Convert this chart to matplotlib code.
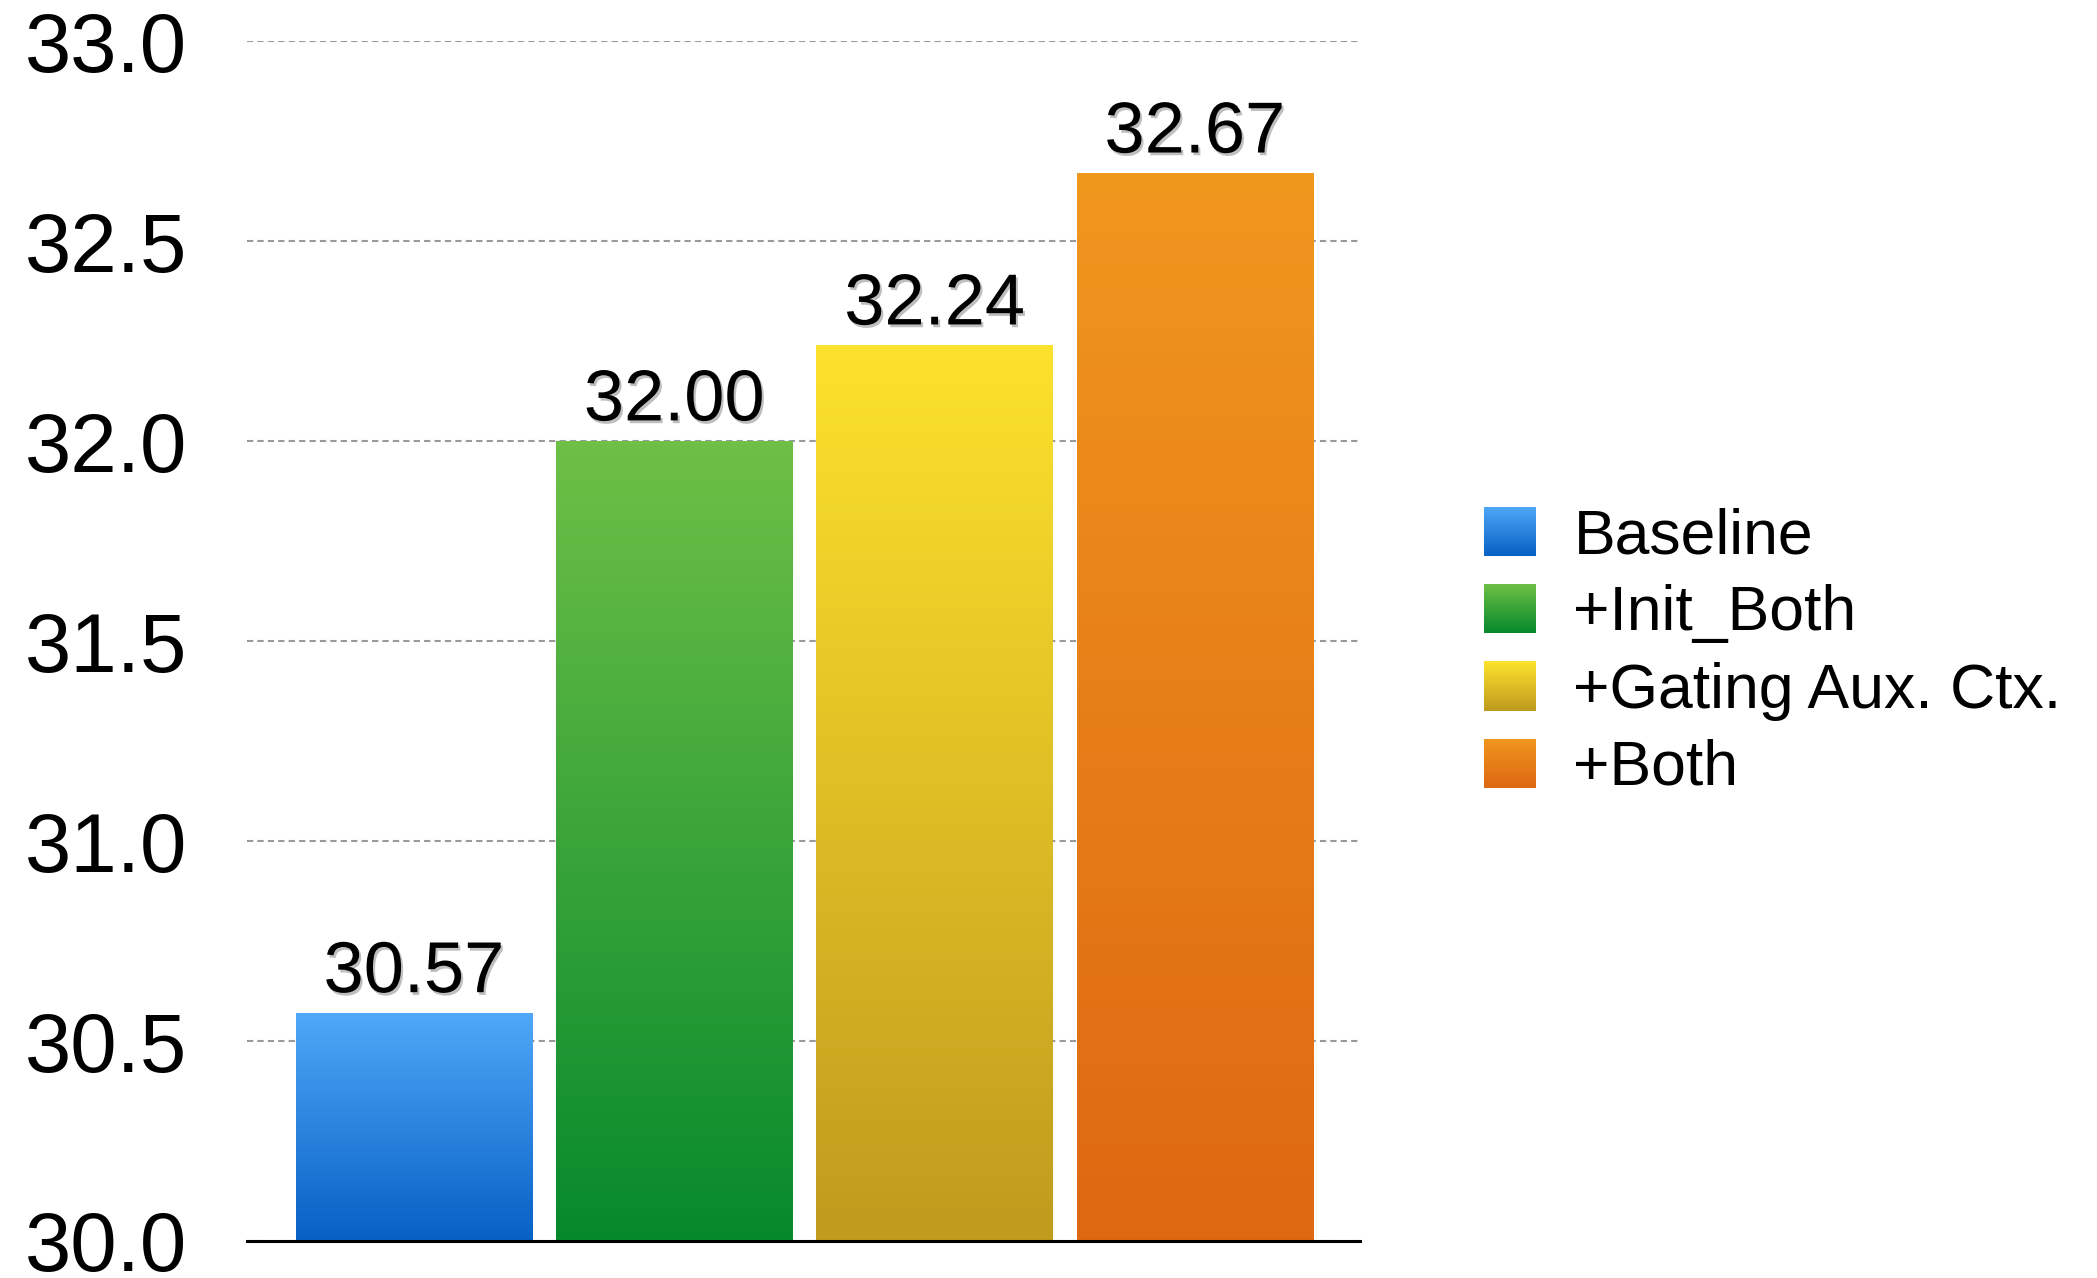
import matplotlib
matplotlib.use("Agg")
import matplotlib.pyplot as plt
import matplotlib.patheffects as pe
from matplotlib.colors import LinearSegmentedColormap
from matplotlib.patches import Patch
import numpy as np

plt.rcParams['font.family'] = ['Liberation Sans', 'DejaVu Sans']

labels = ["Baseline", "+Init_Both", "+Gating Aux. Ctx.", "+Both"]
scores = [30.57, 32.00, 32.24, 32.67]
yticks = [30.0, 30.5, 31.0, 31.5, 32.0, 32.5, 33.0]

# (top colour, bottom colour) for each bar's vertical gradient
grad_colors = [
    ("#50a8f8", "#0760c4"),
    ("#6ec046", "#06892c"),
    ("#fce22c", "#bf9b1e"),
    ("#f0971e", "#de6712"),
]


def gradient_bar(ax, rect, top, bottom):
    cmap = LinearSegmentedColormap.from_list("g", [top, bottom])
    x0, y0 = rect.get_x(), rect.get_y()
    w, h = rect.get_width(), rect.get_height()
    grad = np.linspace(0, 1, 256).reshape(-1, 1)
    im = ax.imshow(grad, cmap=cmap, aspect="auto", origin="upper",
                   extent=(x0, x0 + w, y0, y0 + h), zorder=2)
    im.set_clip_path(rect)


def main():
    fig = plt.figure(figsize=(20.97, 12.78), dpi=100)
    ax = fig.add_axes([0.1178, 0.029, 0.5307, 0.9386])

    x = np.arange(len(scores))
    bars = ax.bar(x, np.array(scores) - 30.0, bottom=30.0, width=0.909,
                  color="none", edgecolor="none", zorder=2)
    for rect, (top, bottom) in zip(bars, grad_colors):
        gradient_bar(ax, rect, top, bottom)

    ax.set_xlim(-0.642, 3.634)
    ax.set_ylim(30.0, 33.0)
    ax.set_yticks(yticks)
    ax.set_yticklabels([f"{v:.1f}" for v in yticks])
    ax.tick_params(axis="y", length=0, pad=43, labelsize=60)
    ax.set_xticks([])

    ax.yaxis.grid(True, color="#9a9a9a", linewidth=1.5, linestyle=(0, (3, 2)))
    ax.set_axisbelow(True)
    for side in ["top", "right", "left"]:
        ax.spines[side].set_visible(False)
    ax.spines["bottom"].set_linewidth(2.2)
    ax.spines["bottom"].set_color("black")
    ax.spines["bottom"].set_zorder(5)

    shadow = [pe.SimplePatchShadow(offset=(1.5, -2), shadow_rgbFace="black", alpha=0.25),
              pe.Normal()]
    for xi, v in zip(x, scores):
        ax.annotate(f"{v:.2f}", (xi, v), xytext=(0, 15), textcoords="offset points",
                    ha="center", va="baseline", fontsize=52, color="black",
                    path_effects=shadow, zorder=6)

    handles = [Patch(facecolor=top, edgecolor="none") for top, _ in grad_colors]
    leg = fig.legend(handles, labels, loc="center left", bbox_to_anchor=(0.7077, 0.4895),
                     frameon=False, fontsize=45, handlelength=0.83, handleheight=0.83,
                     handletextpad=0.6, labelspacing=0.29, borderpad=0, borderaxespad=0)
    # legend swatches get the same top-to-bottom gradient as the bars
    fig.canvas.draw()
    renderer = fig.canvas.get_renderer()
    for patch, (top, bottom) in zip(leg.get_patches(), grad_colors):
        bb = patch.get_window_extent(renderer).transformed(fig.transFigure.inverted())
        cax = fig.add_axes([bb.x0, bb.y0, bb.width, bb.height], zorder=10)
        cmap = LinearSegmentedColormap.from_list("g", [top, bottom])
        cax.imshow(np.linspace(0, 1, 64).reshape(-1, 1), cmap=cmap, aspect="auto")
        cax.axis("off")

    fig.savefig("out.png", dpi=100)


if __name__ == "__main__":
    main()
